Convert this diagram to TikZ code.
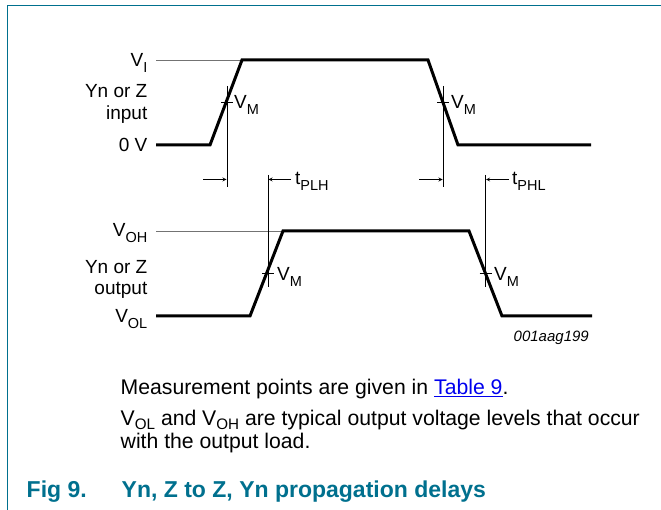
\documentclass[tikz,border=0pt]{standalone}
\usepackage{fontspec}
\setmainfont{Liberation Sans}
\definecolor{figteal}{RGB}{0,112,142}
\definecolor{linkblue}{RGB}{0,0,238}
\newcommand{\lowsub}[1]{\raisebox{-0.3em}{\fontsize{14.5}{14.5}\selectfont #1}}
\newcommand{\textsub}[1]{\raisebox{-0.2em}[\height][0pt]{\fontsize{15.2}{15.2}\selectfont #1}}
\begin{document}
\begin{tikzpicture}[x=1pt, y=-1pt, >=stealth,
        wave/.style={line width=3pt, line join=miter},
        level/.style={draw=black!55, line width=0.8pt},
        marker/.style={line width=0.7pt},
        delay/.style={->, line width=0.8pt},
        axislabel/.style={font=\fontsize{19}{21}\selectfont, inner sep=0pt, anchor=base east, align=right},
        vmlabel/.style={font=\fontsize{19}{21}\selectfont, inner sep=0pt, anchor=base west},
        bodytext/.style={font=\fontsize{21.2}{23.3}\selectfont, inner sep=0pt, anchor=base west, align=left},
        caption/.style={font=\bfseries\fontsize{23}{25}\selectfont, text=figteal, inner sep=0pt, anchor=base west}]
    \useasboundingbox (0,0) rectangle (661,510);
    % frame
    \draw[figteal, line width=1pt] (661,6) -- (7,6) -- (7,510);

    % input waveform
    \node[axislabel] (vi) at (147.5,66.5) {V\lowsub{I}};
    \node[axislabel] (inname) at (147.5,97.5) {Yn or Z};
    \node[axislabel] (inname2) at (147.5,119.5) {input};
    \node[axislabel] (zerov) at (147.5,151.5) {0 V};
    \coordinate (inlow) at (156,145);
    \coordinate (inrise) at (210,145);
    \coordinate (inhigh) at (242,60);
    \coordinate (infall) at (428,60);
    \coordinate (inend) at (458,145);
    \coordinate (inlast) at (591,145);
    \draw[level] (156,60) -- (inhigh);
    \draw[wave] (inlow) -- (inrise) -- (inhigh) -- (infall) -- (inend) -- (inlast);

    % output waveform
    \node[axislabel] (voh) at (147.5,237) {V\lowsub{OH}};
    \node[axislabel] (outname) at (147.5,274) {Yn or Z};
    \node[axislabel] (outname2) at (147.5,294.5) {output};
    \node[axislabel] (vol) at (147.5,322.5) {V\lowsub{OL}};
    \coordinate (outlow) at (156,316);
    \coordinate (outrise) at (250,316);
    \coordinate (outhigh) at (283,231);
    \coordinate (outfall) at (469,231);
    \coordinate (outend) at (502,316);
    \coordinate (outlast) at (592,316);
    \draw[level] (156,231) -- (outhigh);
    \draw[wave] (outlow) -- (outrise) -- (outhigh) -- (outfall) -- (outend) -- (outlast);

    % measurement markers
    \coordinate (m1top) at (227,86);   \coordinate (m1bot) at (227,187);
    \coordinate (m2top) at (268,175);  \coordinate (m2bot) at (268,287);
    \coordinate (m3top) at (443,86);   \coordinate (m3bot) at (443,187);
    \coordinate (m4top) at (485.5,175); \coordinate (m4bot) at (485.5,287);
    \draw[marker] (m1top) -- (m1bot);
    \draw[marker] (m2top) -- (m2bot);
    \draw[marker] (m3top) -- (m3bot);
    \draw[marker] (m4top) -- (m4bot);
    \draw[marker] (221,102.5) -- (233,102.5);
    \draw[marker] (437,102.5) -- (449,102.5);
    \draw[marker] (262,273.5) -- (274,273.5);
    \draw[marker] (479.5,273.5) -- (491.5,273.5);
    \node[vmlabel] (vm1) at (234,108.5) {V\lowsub{M}};
    \node[vmlabel] (vm2) at (451,108.5) {V\lowsub{M}};
    \node[vmlabel] (vm3) at (277,280.5) {V\lowsub{M}};
    \node[vmlabel] (vm4) at (494,280.5) {V\lowsub{M}};

    % delay arrows
    \coordinate (a1) at (203,179.5);  \coordinate (a1end) at (226.5,179.5);
    \coordinate (a2) at (291,179.5);  \coordinate (a2end) at (268.5,179.5);
    \coordinate (a3) at (419,179.5);  \coordinate (a3end) at (442.5,179.5);
    \coordinate (a4) at (509,179.5);  \coordinate (a4end) at (486,179.5);
    \draw[delay] (a1) -- (a1end);
    \draw[delay] (a2) -- (a2end);
    \draw[delay] (a3) -- (a3end);
    \draw[delay] (a4) -- (a4end);
    \node[vmlabel] (tplh) at (295,185) {t\lowsub{PLH}};
    \node[vmlabel] (tphl) at (512,185) {t\lowsub{PHL}};

    \node[font=\itshape\fontsize{15}{15}\selectfont, inner sep=0pt, anchor=base east] (code) at (589,341.5) {001aag199};

    % notes and caption
    \node[bodytext] (note1) at (120.5,394.3) {Measurement points are given in \textcolor{linkblue}{\underline{Table 9}}.};
    \node[bodytext] (note2) at (120.5,448.3) {V\textsub{OL} and V\textsub{OH} are typical output voltage levels that occur\\with the output load.};
    \node[caption] (fignum) at (26.5,497) {Fig 9.};
    \node[caption] (figtitle) at (121.5,497) {Yn, Z to Z, Yn propagation delays};
\end{tikzpicture}
\end{document}
